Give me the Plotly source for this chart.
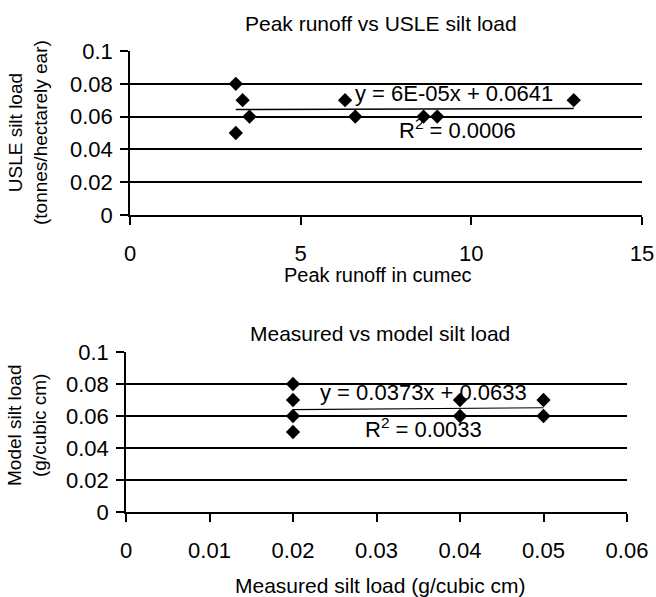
import plotly.graph_objects as go

# Top chart data: Peak runoff vs USLE silt load
peak_runoff = [3.1, 3.3, 3.5, 3.1, 6.3, 6.6, 8.6, 9.0, 13.0]
usle_load = [0.08, 0.07, 0.06, 0.05, 0.07, 0.06, 0.06, 0.06, 0.07]
top_slope, top_intercept = 6e-05, 0.0641
top_eq = "y = 6E-05x + 0.0641"
top_r2 = "R<sup>2</sup> = 0.0006"
top_xticks = [0, 5, 10, 15]

# Bottom chart data: Measured vs model silt load
measured = [0.02, 0.02, 0.02, 0.02, 0.04, 0.04, 0.05, 0.05]
model = [0.08, 0.07, 0.06, 0.05, 0.07, 0.06, 0.07, 0.06]
bot_slope, bot_intercept = 0.0373, 0.0633
bot_eq = "y = 0.0373x + 0.0633"
bot_r2 = "R<sup>2</sup> = 0.0033"
bot_xticks = [0, 0.01, 0.02, 0.03, 0.04, 0.05, 0.06]

y_ticks = [0, 0.02, 0.04, 0.06, 0.08, 0.1]

FONT = "Liberation Sans, Arial, sans-serif"
W, H = 656, 597

fig = go.Figure()

marker = dict(symbol="diamond", size=11, color="black")
fig.add_trace(go.Scatter(x=peak_runoff, y=usle_load, mode="markers", marker=marker,
                         xaxis="x", yaxis="y", showlegend=False))
tx = [min(peak_runoff), max(peak_runoff)]
fig.add_trace(go.Scatter(x=tx, y=[top_slope * v + top_intercept for v in tx], mode="lines",
                         line=dict(color="black", width=1.5), xaxis="x", yaxis="y", showlegend=False))

fig.add_trace(go.Scatter(x=measured, y=model, mode="markers", marker=marker,
                         xaxis="x2", yaxis="y2", showlegend=False))
bx = [min(measured), max(measured)]
fig.add_trace(go.Scatter(x=bx, y=[bot_slope * v + bot_intercept for v in bx], mode="lines",
                         line=dict(color="black", width=1.2), xaxis="x2", yaxis="y2", showlegend=False))


def px_x(p):
    return p / W


def px_y(p):
    return (H - p) / H


tickfont = dict(family=FONT, size=22, color="black")
common_x = dict(showgrid=False, zeroline=False, showline=True, linecolor="black", linewidth=1.5,
                ticks="outside", ticklen=8, tickwidth=1.5, tickcolor="black", tickfont=tickfont,
                fixedrange=True, automargin=False, ticklabelstandoff=10)
common_y = dict(showgrid=True, gridcolor="black", gridwidth=1.5, zeroline=False, showline=True,
                linecolor="black", linewidth=1.5, ticks="outside", ticklen=8, tickwidth=1.5,
                tickcolor="black", tickfont=tickfont, tickformat="~g", fixedrange=True,
                automargin=False, ticklabelstandoff=3)

fig.update_layout(
    width=W, height=H,
    autosize=False,
    margin=dict(l=0, r=0, t=0, b=0, pad=0),
    paper_bgcolor="white", plot_bgcolor="white",
    font=dict(family=FONT, color="black"),
    xaxis=dict(common_x, domain=[px_x(130), px_x(642)], range=[0, 15], tickvals=top_xticks,
               anchor="y"),
    yaxis=dict(common_y, domain=[px_y(215), px_y(51)], range=[0, 0.1],
               tickvals=y_ticks, anchor="x"),
    xaxis2=dict(common_x, domain=[px_x(126), px_x(627)], range=[0, 0.06],
                tickvals=bot_xticks, anchor="y2"),
    yaxis2=dict(common_y, domain=[px_y(512), px_y(352)], range=[0, 0.1],
                tickvals=y_ticks, anchor="x2"),
)


def ann(text, x, y, size, angle=0):
    fig.add_annotation(text=text, x=px_x(x), y=px_y(y), xref="paper", yref="paper",
                       showarrow=False, font=dict(family=FONT, size=size, color="black"),
                       textangle=angle, xanchor="center", yanchor="middle")


ann("Peak runoff vs USLE silt load", 381, 23, 21)
ann("Peak runoff in cumec", 378, 275, 20)
ann("USLE silt load<br>(tonnes/hectarely ear)", 28, 133, 19, -90)
ann(top_eq, 454, 93, 22)
ann(top_r2, 457, 129, 22)

ann("Measured vs model silt load", 380, 333, 21)
ann("Measured silt load (g/cubic cm)", 380, 585, 21)
ann("Model silt load<br>(g/cubic cm)", 27, 426, 19, -90)
ann(bot_eq, 423, 392, 22)
ann(bot_r2, 423, 428, 22)

fig.write_html("out.html", config={"displayModeBar": False},
               post_script="document.body.style.margin='0';document.body.style.overflow='hidden';")
